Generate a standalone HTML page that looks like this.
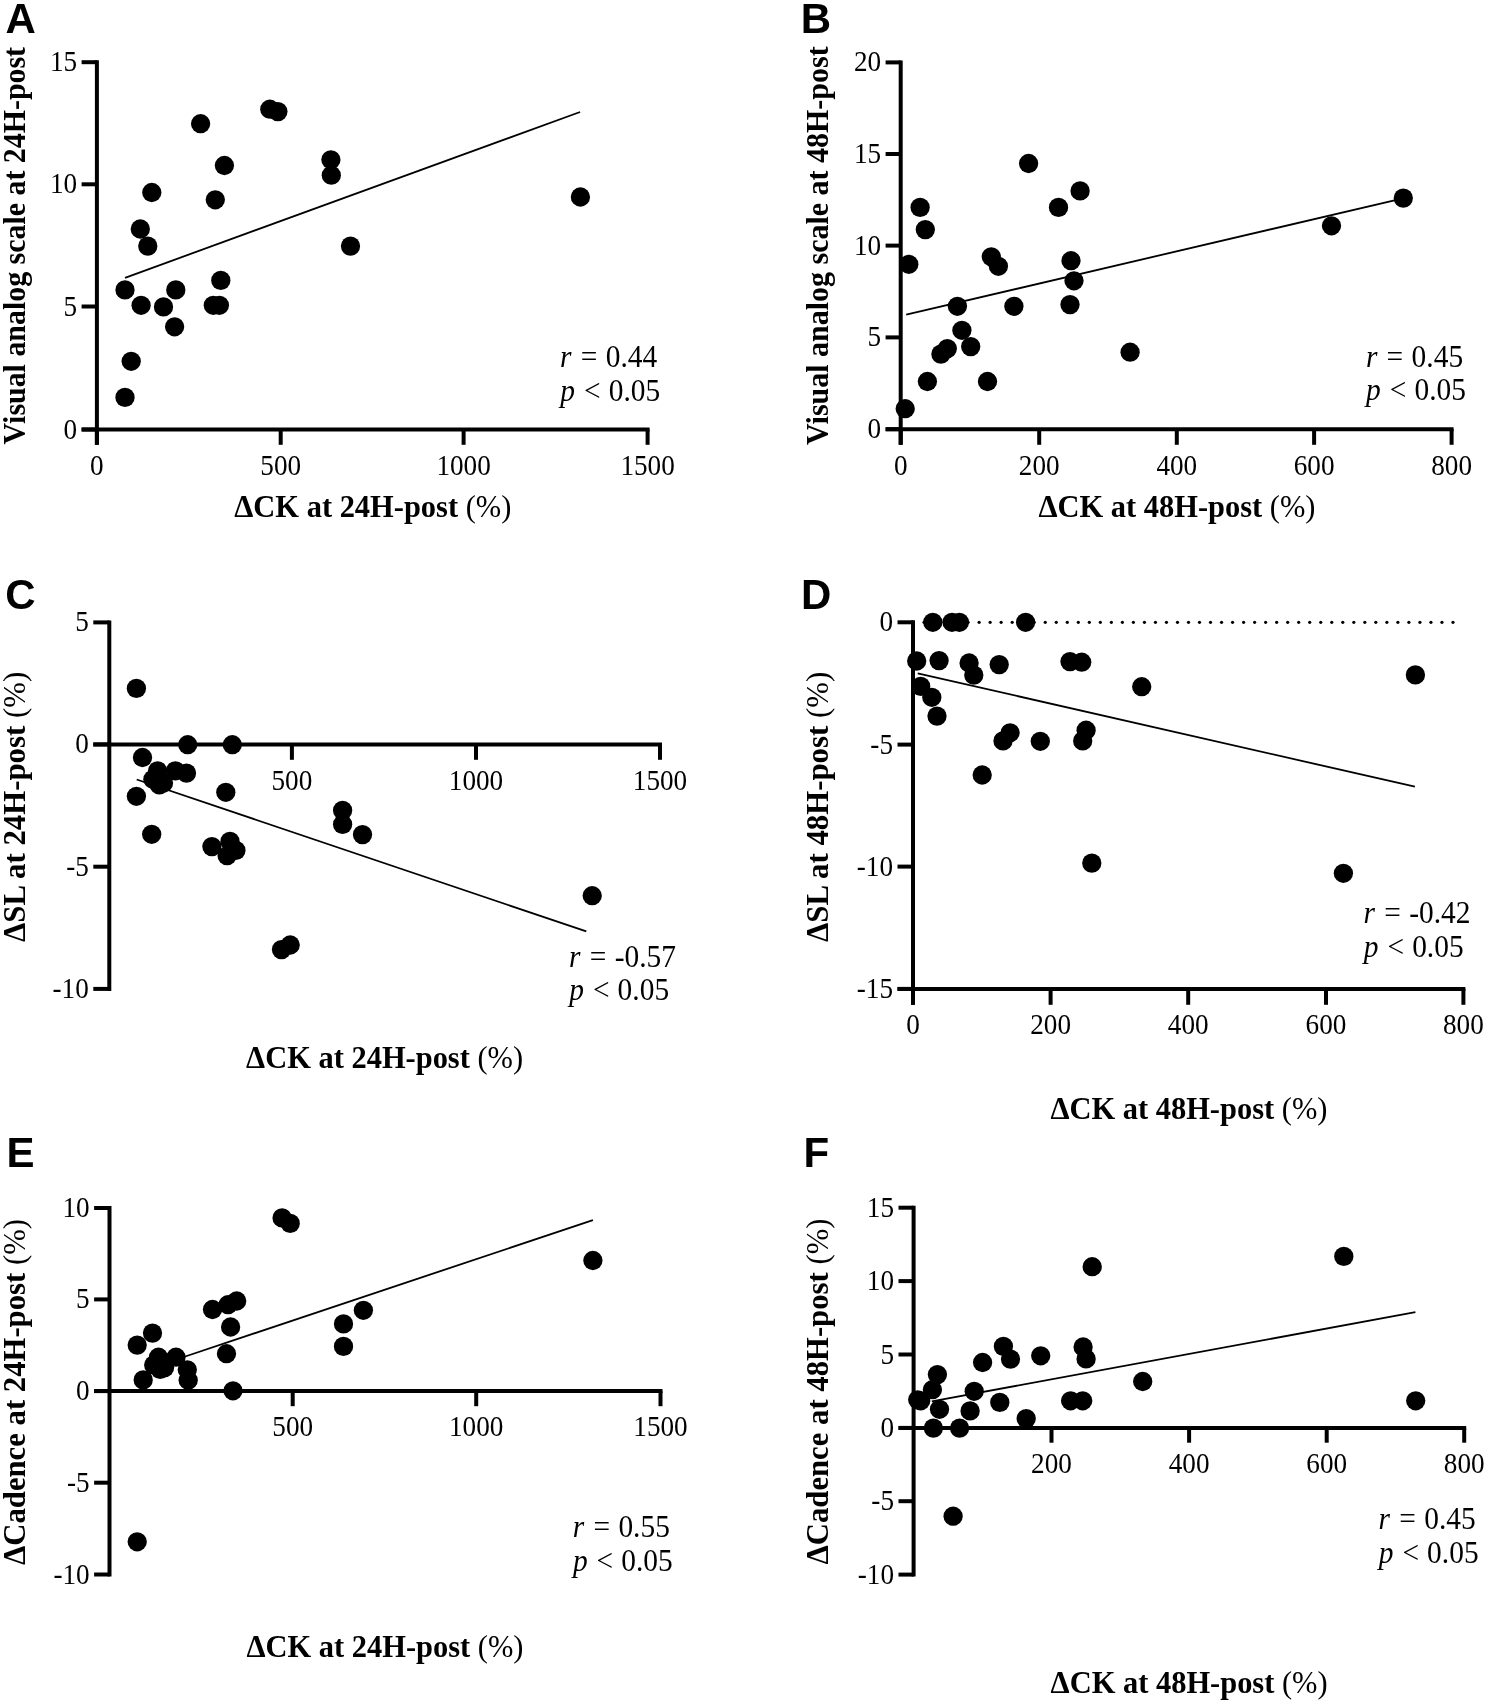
<!DOCTYPE html>
<html><head><meta charset="utf-8"><style>
html,body{margin:0;padding:0;background:#fff;}
svg{display:block;filter:grayscale(1);}
</style></head><body>
<svg width="1487" height="1703" viewBox="0 0 1487 1703">
<rect width="1487" height="1703" fill="#fff"/>
<line x1="96.90" y1="60.20" x2="96.90" y2="444.80" stroke="#000" stroke-width="4.0" stroke-linecap="butt"/>
<line x1="81.60" y1="62.20" x2="96.90" y2="62.20" stroke="#000" stroke-width="4.0" stroke-linecap="butt"/>
<text transform="translate(77.10,71.20) scale(0.897,1)" x="0" y="0" text-anchor="end" font-size="30.3" font-weight="normal" font-style="normal" font-family="Liberation Serif" >15</text>
<line x1="81.60" y1="184.30" x2="96.90" y2="184.30" stroke="#000" stroke-width="4.0" stroke-linecap="butt"/>
<text transform="translate(77.10,193.30) scale(0.897,1)" x="0" y="0" text-anchor="end" font-size="30.3" font-weight="normal" font-style="normal" font-family="Liberation Serif" >10</text>
<line x1="81.60" y1="306.50" x2="96.90" y2="306.50" stroke="#000" stroke-width="4.0" stroke-linecap="butt"/>
<text transform="translate(77.10,315.50) scale(0.897,1)" x="0" y="0" text-anchor="end" font-size="30.3" font-weight="normal" font-style="normal" font-family="Liberation Serif" >5</text>
<line x1="81.60" y1="429.50" x2="96.90" y2="429.50" stroke="#000" stroke-width="4.0" stroke-linecap="butt"/>
<text transform="translate(77.10,438.50) scale(0.897,1)" x="0" y="0" text-anchor="end" font-size="30.3" font-weight="normal" font-style="normal" font-family="Liberation Serif" >0</text>
<line x1="81.60" y1="429.50" x2="649.60" y2="429.50" stroke="#000" stroke-width="4.0" stroke-linecap="butt"/>
<line x1="96.90" y1="429.50" x2="96.90" y2="444.80" stroke="#000" stroke-width="4.0" stroke-linecap="butt"/>
<text transform="translate(96.90,474.50) scale(0.897,1)" x="0" y="0" text-anchor="middle" font-size="30.3" font-weight="normal" font-style="normal" font-family="Liberation Serif" >0</text>
<line x1="280.70" y1="429.50" x2="280.70" y2="444.80" stroke="#000" stroke-width="4.0" stroke-linecap="butt"/>
<text transform="translate(280.70,474.50) scale(0.897,1)" x="0" y="0" text-anchor="middle" font-size="30.3" font-weight="normal" font-style="normal" font-family="Liberation Serif" >500</text>
<line x1="463.60" y1="429.50" x2="463.60" y2="444.80" stroke="#000" stroke-width="4.0" stroke-linecap="butt"/>
<text transform="translate(463.60,474.50) scale(0.897,1)" x="0" y="0" text-anchor="middle" font-size="30.3" font-weight="normal" font-style="normal" font-family="Liberation Serif" >1000</text>
<line x1="647.60" y1="429.50" x2="647.60" y2="444.80" stroke="#000" stroke-width="4.0" stroke-linecap="butt"/>
<text transform="translate(647.60,474.50) scale(0.897,1)" x="0" y="0" text-anchor="middle" font-size="30.3" font-weight="normal" font-style="normal" font-family="Liberation Serif" >1500</text>
<line x1="125.00" y1="277.80" x2="580.10" y2="112.00" stroke="#000" stroke-width="1.8" stroke-linecap="butt"/>
<circle cx="200.6" cy="123.7" r="9.65"/>
<circle cx="269.8" cy="109.2" r="9.65"/>
<circle cx="277.9" cy="111.6" r="9.65"/>
<circle cx="224.4" cy="165.5" r="9.65"/>
<circle cx="330.9" cy="159.8" r="9.65"/>
<circle cx="331.3" cy="175.2" r="9.65"/>
<circle cx="151.8" cy="192.5" r="9.65"/>
<circle cx="215.3" cy="199.8" r="9.65"/>
<circle cx="140.3" cy="229.0" r="9.65"/>
<circle cx="147.8" cy="246.1" r="9.65"/>
<circle cx="350.5" cy="246.1" r="9.65"/>
<circle cx="125.0" cy="289.9" r="9.65"/>
<circle cx="141.1" cy="305.3" r="9.65"/>
<circle cx="163.5" cy="306.9" r="9.65"/>
<circle cx="175.8" cy="289.9" r="9.65"/>
<circle cx="174.6" cy="326.8" r="9.65"/>
<circle cx="220.8" cy="280.4" r="9.65"/>
<circle cx="213.3" cy="305.3" r="9.65"/>
<circle cx="219.4" cy="305.3" r="9.65"/>
<circle cx="131.2" cy="361.3" r="9.65"/>
<circle cx="125.0" cy="397.4" r="9.65"/>
<circle cx="580.4" cy="197.0" r="9.65"/>
<line x1="900.70" y1="60.40" x2="900.70" y2="444.80" stroke="#000" stroke-width="4.0" stroke-linecap="butt"/>
<line x1="885.60" y1="62.40" x2="900.70" y2="62.40" stroke="#000" stroke-width="4.0" stroke-linecap="butt"/>
<text transform="translate(881.10,71.40) scale(0.897,1)" x="0" y="0" text-anchor="end" font-size="30.3" font-weight="normal" font-style="normal" font-family="Liberation Serif" >20</text>
<line x1="885.60" y1="154.00" x2="900.70" y2="154.00" stroke="#000" stroke-width="4.0" stroke-linecap="butt"/>
<text transform="translate(881.10,163.00) scale(0.897,1)" x="0" y="0" text-anchor="end" font-size="30.3" font-weight="normal" font-style="normal" font-family="Liberation Serif" >15</text>
<line x1="885.60" y1="245.60" x2="900.70" y2="245.60" stroke="#000" stroke-width="4.0" stroke-linecap="butt"/>
<text transform="translate(881.10,254.60) scale(0.897,1)" x="0" y="0" text-anchor="end" font-size="30.3" font-weight="normal" font-style="normal" font-family="Liberation Serif" >10</text>
<line x1="885.60" y1="337.40" x2="900.70" y2="337.40" stroke="#000" stroke-width="4.0" stroke-linecap="butt"/>
<text transform="translate(881.10,346.40) scale(0.897,1)" x="0" y="0" text-anchor="end" font-size="30.3" font-weight="normal" font-style="normal" font-family="Liberation Serif" >5</text>
<line x1="885.60" y1="429.20" x2="900.70" y2="429.20" stroke="#000" stroke-width="4.0" stroke-linecap="butt"/>
<text transform="translate(881.10,438.20) scale(0.897,1)" x="0" y="0" text-anchor="end" font-size="30.3" font-weight="normal" font-style="normal" font-family="Liberation Serif" >0</text>
<line x1="885.60" y1="429.20" x2="1453.60" y2="429.20" stroke="#000" stroke-width="4.0" stroke-linecap="butt"/>
<line x1="900.70" y1="429.20" x2="900.70" y2="444.80" stroke="#000" stroke-width="4.0" stroke-linecap="butt"/>
<text transform="translate(900.70,474.50) scale(0.897,1)" x="0" y="0" text-anchor="middle" font-size="30.3" font-weight="normal" font-style="normal" font-family="Liberation Serif" >0</text>
<line x1="1039.20" y1="429.20" x2="1039.20" y2="444.80" stroke="#000" stroke-width="4.0" stroke-linecap="butt"/>
<text transform="translate(1039.20,474.50) scale(0.897,1)" x="0" y="0" text-anchor="middle" font-size="30.3" font-weight="normal" font-style="normal" font-family="Liberation Serif" >200</text>
<line x1="1176.80" y1="429.20" x2="1176.80" y2="444.80" stroke="#000" stroke-width="4.0" stroke-linecap="butt"/>
<text transform="translate(1176.80,474.50) scale(0.897,1)" x="0" y="0" text-anchor="middle" font-size="30.3" font-weight="normal" font-style="normal" font-family="Liberation Serif" >400</text>
<line x1="1314.10" y1="429.20" x2="1314.10" y2="444.80" stroke="#000" stroke-width="4.0" stroke-linecap="butt"/>
<text transform="translate(1314.10,474.50) scale(0.897,1)" x="0" y="0" text-anchor="middle" font-size="30.3" font-weight="normal" font-style="normal" font-family="Liberation Serif" >600</text>
<line x1="1451.60" y1="429.20" x2="1451.60" y2="444.80" stroke="#000" stroke-width="4.0" stroke-linecap="butt"/>
<text transform="translate(1451.60,474.50) scale(0.897,1)" x="0" y="0" text-anchor="middle" font-size="30.3" font-weight="normal" font-style="normal" font-family="Liberation Serif" >800</text>
<line x1="906.20" y1="314.70" x2="1403.00" y2="198.30" stroke="#000" stroke-width="1.8" stroke-linecap="butt"/>
<circle cx="1028.6" cy="163.5" r="9.65"/>
<circle cx="1080.1" cy="190.9" r="9.65"/>
<circle cx="1058.5" cy="207.4" r="9.65"/>
<circle cx="920.1" cy="207.4" r="9.65"/>
<circle cx="925.3" cy="229.6" r="9.65"/>
<circle cx="908.8" cy="264.3" r="9.65"/>
<circle cx="991.3" cy="256.8" r="9.65"/>
<circle cx="998.4" cy="266.3" r="9.65"/>
<circle cx="1071.0" cy="260.7" r="9.65"/>
<circle cx="1074.0" cy="280.8" r="9.65"/>
<circle cx="1070.0" cy="304.6" r="9.65"/>
<circle cx="957.4" cy="306.3" r="9.65"/>
<circle cx="1013.9" cy="306.3" r="9.65"/>
<circle cx="961.9" cy="330.3" r="9.65"/>
<circle cx="947.3" cy="348.6" r="9.65"/>
<circle cx="940.9" cy="354.1" r="9.65"/>
<circle cx="970.7" cy="346.6" r="9.65"/>
<circle cx="927.4" cy="381.5" r="9.65"/>
<circle cx="987.5" cy="381.5" r="9.65"/>
<circle cx="905.2" cy="408.7" r="9.65"/>
<circle cx="1130.1" cy="352.2" r="9.65"/>
<circle cx="1403.3" cy="198.1" r="9.65"/>
<circle cx="1331.5" cy="225.8" r="9.65"/>
<line x1="109.30" y1="620.40" x2="109.30" y2="990.90" stroke="#000" stroke-width="4.0" stroke-linecap="butt"/>
<line x1="93.30" y1="622.40" x2="109.30" y2="622.40" stroke="#000" stroke-width="4.0" stroke-linecap="butt"/>
<text transform="translate(88.80,631.40) scale(0.897,1)" x="0" y="0" text-anchor="end" font-size="30.3" font-weight="normal" font-style="normal" font-family="Liberation Serif" >5</text>
<line x1="93.30" y1="744.40" x2="109.30" y2="744.40" stroke="#000" stroke-width="4.0" stroke-linecap="butt"/>
<text transform="translate(88.80,753.40) scale(0.897,1)" x="0" y="0" text-anchor="end" font-size="30.3" font-weight="normal" font-style="normal" font-family="Liberation Serif" >0</text>
<line x1="93.30" y1="866.70" x2="109.30" y2="866.70" stroke="#000" stroke-width="4.0" stroke-linecap="butt"/>
<text transform="translate(88.80,875.70) scale(0.897,1)" x="0" y="0" text-anchor="end" font-size="30.3" font-weight="normal" font-style="normal" font-family="Liberation Serif" >-5</text>
<line x1="93.30" y1="988.90" x2="109.30" y2="988.90" stroke="#000" stroke-width="4.0" stroke-linecap="butt"/>
<text transform="translate(88.80,997.90) scale(0.897,1)" x="0" y="0" text-anchor="end" font-size="30.3" font-weight="normal" font-style="normal" font-family="Liberation Serif" >-10</text>
<line x1="93.30" y1="744.40" x2="662.00" y2="744.40" stroke="#000" stroke-width="4.0" stroke-linecap="butt"/>
<line x1="291.90" y1="744.40" x2="291.90" y2="759.80" stroke="#000" stroke-width="4.0" stroke-linecap="butt"/>
<text transform="translate(291.90,789.50) scale(0.897,1)" x="0" y="0" text-anchor="middle" font-size="30.3" font-weight="normal" font-style="normal" font-family="Liberation Serif" >500</text>
<line x1="476.00" y1="744.40" x2="476.00" y2="759.80" stroke="#000" stroke-width="4.0" stroke-linecap="butt"/>
<text transform="translate(476.00,789.50) scale(0.897,1)" x="0" y="0" text-anchor="middle" font-size="30.3" font-weight="normal" font-style="normal" font-family="Liberation Serif" >1000</text>
<line x1="660.00" y1="744.40" x2="660.00" y2="759.80" stroke="#000" stroke-width="4.0" stroke-linecap="butt"/>
<text transform="translate(660.00,789.50) scale(0.897,1)" x="0" y="0" text-anchor="middle" font-size="30.3" font-weight="normal" font-style="normal" font-family="Liberation Serif" >1500</text>
<line x1="136.70" y1="779.50" x2="586.30" y2="931.40" stroke="#000" stroke-width="1.8" stroke-linecap="butt"/>
<circle cx="136.4" cy="688.4" r="9.65"/>
<circle cx="187.7" cy="744.7" r="9.65"/>
<circle cx="232.3" cy="744.7" r="9.65"/>
<circle cx="142.5" cy="757.5" r="9.65"/>
<circle cx="157.6" cy="770.8" r="9.65"/>
<circle cx="152.9" cy="779.3" r="9.65"/>
<circle cx="159.4" cy="784.9" r="9.65"/>
<circle cx="175.4" cy="770.8" r="9.65"/>
<circle cx="186.5" cy="773.1" r="9.65"/>
<circle cx="136.4" cy="796.3" r="9.65"/>
<circle cx="225.8" cy="792.3" r="9.65"/>
<circle cx="151.7" cy="834.3" r="9.65"/>
<circle cx="211.9" cy="846.6" r="9.65"/>
<circle cx="230.0" cy="841.4" r="9.65"/>
<circle cx="235.9" cy="850.4" r="9.65"/>
<circle cx="227.1" cy="855.7" r="9.65"/>
<circle cx="342.6" cy="810.4" r="9.65"/>
<circle cx="342.6" cy="824.4" r="9.65"/>
<circle cx="362.5" cy="834.6" r="9.65"/>
<circle cx="592.2" cy="895.7" r="9.65"/>
<circle cx="281.5" cy="949.6" r="9.65"/>
<circle cx="290.2" cy="945.0" r="9.65"/>
<circle cx="163.5" cy="783.0" r="9.65"/>
<line x1="913.00" y1="620.30" x2="913.00" y2="1004.80" stroke="#000" stroke-width="4.0" stroke-linecap="butt"/>
<line x1="897.50" y1="622.30" x2="913.00" y2="622.30" stroke="#000" stroke-width="4.0" stroke-linecap="butt"/>
<text transform="translate(893.00,631.30) scale(0.897,1)" x="0" y="0" text-anchor="end" font-size="30.3" font-weight="normal" font-style="normal" font-family="Liberation Serif" >0</text>
<line x1="897.50" y1="744.60" x2="913.00" y2="744.60" stroke="#000" stroke-width="4.0" stroke-linecap="butt"/>
<text transform="translate(893.00,753.60) scale(0.897,1)" x="0" y="0" text-anchor="end" font-size="30.3" font-weight="normal" font-style="normal" font-family="Liberation Serif" >-5</text>
<line x1="897.50" y1="866.60" x2="913.00" y2="866.60" stroke="#000" stroke-width="4.0" stroke-linecap="butt"/>
<text transform="translate(893.00,875.60) scale(0.897,1)" x="0" y="0" text-anchor="end" font-size="30.3" font-weight="normal" font-style="normal" font-family="Liberation Serif" >-10</text>
<line x1="897.50" y1="988.90" x2="913.00" y2="988.90" stroke="#000" stroke-width="4.0" stroke-linecap="butt"/>
<text transform="translate(893.00,997.90) scale(0.897,1)" x="0" y="0" text-anchor="end" font-size="30.3" font-weight="normal" font-style="normal" font-family="Liberation Serif" >-15</text>
<line x1="897.50" y1="988.90" x2="1465.40" y2="988.90" stroke="#000" stroke-width="4.0" stroke-linecap="butt"/>
<line x1="913.00" y1="988.90" x2="913.00" y2="1004.80" stroke="#000" stroke-width="4.0" stroke-linecap="butt"/>
<text transform="translate(913.00,1034.30) scale(0.897,1)" x="0" y="0" text-anchor="middle" font-size="30.3" font-weight="normal" font-style="normal" font-family="Liberation Serif" >0</text>
<line x1="1050.60" y1="988.90" x2="1050.60" y2="1004.80" stroke="#000" stroke-width="4.0" stroke-linecap="butt"/>
<text transform="translate(1050.60,1034.30) scale(0.897,1)" x="0" y="0" text-anchor="middle" font-size="30.3" font-weight="normal" font-style="normal" font-family="Liberation Serif" >200</text>
<line x1="1188.20" y1="988.90" x2="1188.20" y2="1004.80" stroke="#000" stroke-width="4.0" stroke-linecap="butt"/>
<text transform="translate(1188.20,1034.30) scale(0.897,1)" x="0" y="0" text-anchor="middle" font-size="30.3" font-weight="normal" font-style="normal" font-family="Liberation Serif" >400</text>
<line x1="1326.00" y1="988.90" x2="1326.00" y2="1004.80" stroke="#000" stroke-width="4.0" stroke-linecap="butt"/>
<text transform="translate(1326.00,1034.30) scale(0.897,1)" x="0" y="0" text-anchor="middle" font-size="30.3" font-weight="normal" font-style="normal" font-family="Liberation Serif" >600</text>
<line x1="1463.40" y1="988.90" x2="1463.40" y2="1004.80" stroke="#000" stroke-width="4.0" stroke-linecap="butt"/>
<text transform="translate(1463.40,1034.30) scale(0.897,1)" x="0" y="0" text-anchor="middle" font-size="30.3" font-weight="normal" font-style="normal" font-family="Liberation Serif" >800</text>
<line x1="917.70" y1="673.30" x2="1414.90" y2="786.70" stroke="#000" stroke-width="1.8" stroke-linecap="butt"/>
<circle cx="932.8" cy="622.3" r="9.65"/>
<circle cx="952.0" cy="622.3" r="9.65"/>
<circle cx="959.4" cy="622.3" r="9.65"/>
<circle cx="1025.6" cy="622.3" r="9.65"/>
<circle cx="916.7" cy="661.0" r="9.65"/>
<circle cx="939.1" cy="660.6" r="9.65"/>
<circle cx="969.1" cy="663.0" r="9.65"/>
<circle cx="973.8" cy="675.1" r="9.65"/>
<circle cx="999.2" cy="664.6" r="9.65"/>
<circle cx="1070.0" cy="661.6" r="9.65"/>
<circle cx="1081.7" cy="662.2" r="9.65"/>
<circle cx="920.7" cy="686.4" r="9.65"/>
<circle cx="931.8" cy="697.3" r="9.65"/>
<circle cx="937.0" cy="716.1" r="9.65"/>
<circle cx="1010.1" cy="732.8" r="9.65"/>
<circle cx="1003.0" cy="740.9" r="9.65"/>
<circle cx="1040.3" cy="741.3" r="9.65"/>
<circle cx="1086.1" cy="730.2" r="9.65"/>
<circle cx="1082.7" cy="740.9" r="9.65"/>
<circle cx="982.2" cy="775.0" r="9.65"/>
<circle cx="1141.7" cy="686.7" r="9.65"/>
<circle cx="1415.4" cy="674.9" r="9.65"/>
<circle cx="1091.8" cy="863.1" r="9.65"/>
<circle cx="1343.4" cy="873.3" r="9.65"/>
<line x1="109.50" y1="1206.00" x2="109.50" y2="1576.50" stroke="#000" stroke-width="4.0" stroke-linecap="butt"/>
<line x1="94.10" y1="1208.00" x2="109.50" y2="1208.00" stroke="#000" stroke-width="4.0" stroke-linecap="butt"/>
<text transform="translate(89.60,1217.00) scale(0.897,1)" x="0" y="0" text-anchor="end" font-size="30.3" font-weight="normal" font-style="normal" font-family="Liberation Serif" >10</text>
<line x1="94.10" y1="1299.40" x2="109.50" y2="1299.40" stroke="#000" stroke-width="4.0" stroke-linecap="butt"/>
<text transform="translate(89.60,1308.40) scale(0.897,1)" x="0" y="0" text-anchor="end" font-size="30.3" font-weight="normal" font-style="normal" font-family="Liberation Serif" >5</text>
<line x1="94.10" y1="1391.10" x2="109.50" y2="1391.10" stroke="#000" stroke-width="4.0" stroke-linecap="butt"/>
<text transform="translate(89.60,1400.10) scale(0.897,1)" x="0" y="0" text-anchor="end" font-size="30.3" font-weight="normal" font-style="normal" font-family="Liberation Serif" >0</text>
<line x1="94.10" y1="1482.70" x2="109.50" y2="1482.70" stroke="#000" stroke-width="4.0" stroke-linecap="butt"/>
<text transform="translate(89.60,1491.70) scale(0.897,1)" x="0" y="0" text-anchor="end" font-size="30.3" font-weight="normal" font-style="normal" font-family="Liberation Serif" >-5</text>
<line x1="94.10" y1="1574.50" x2="109.50" y2="1574.50" stroke="#000" stroke-width="4.0" stroke-linecap="butt"/>
<text transform="translate(89.60,1583.50) scale(0.897,1)" x="0" y="0" text-anchor="end" font-size="30.3" font-weight="normal" font-style="normal" font-family="Liberation Serif" >-10</text>
<line x1="94.10" y1="1391.10" x2="662.50" y2="1391.10" stroke="#000" stroke-width="4.0" stroke-linecap="butt"/>
<line x1="292.70" y1="1391.10" x2="292.70" y2="1406.20" stroke="#000" stroke-width="4.0" stroke-linecap="butt"/>
<text transform="translate(292.70,1436.20) scale(0.897,1)" x="0" y="0" text-anchor="middle" font-size="30.3" font-weight="normal" font-style="normal" font-family="Liberation Serif" >500</text>
<line x1="476.20" y1="1391.10" x2="476.20" y2="1406.20" stroke="#000" stroke-width="4.0" stroke-linecap="butt"/>
<text transform="translate(476.20,1436.20) scale(0.897,1)" x="0" y="0" text-anchor="middle" font-size="30.3" font-weight="normal" font-style="normal" font-family="Liberation Serif" >1000</text>
<line x1="660.50" y1="1391.10" x2="660.50" y2="1406.20" stroke="#000" stroke-width="4.0" stroke-linecap="butt"/>
<text transform="translate(660.50,1436.20) scale(0.897,1)" x="0" y="0" text-anchor="middle" font-size="30.3" font-weight="normal" font-style="normal" font-family="Liberation Serif" >1500</text>
<line x1="185.20" y1="1356.50" x2="592.90" y2="1220.10" stroke="#000" stroke-width="1.8" stroke-linecap="butt"/>
<circle cx="282.1" cy="1217.9" r="9.65"/>
<circle cx="290.2" cy="1223.4" r="9.65"/>
<circle cx="236.7" cy="1301.0" r="9.65"/>
<circle cx="228.0" cy="1304.7" r="9.65"/>
<circle cx="212.5" cy="1309.5" r="9.65"/>
<circle cx="230.6" cy="1327.0" r="9.65"/>
<circle cx="152.5" cy="1333.1" r="9.65"/>
<circle cx="137.2" cy="1345.1" r="9.65"/>
<circle cx="226.5" cy="1353.7" r="9.65"/>
<circle cx="176.0" cy="1357.2" r="9.65"/>
<circle cx="158.5" cy="1357.2" r="9.65"/>
<circle cx="153.7" cy="1365.0" r="9.65"/>
<circle cx="160.2" cy="1369.4" r="9.65"/>
<circle cx="164.6" cy="1367.6" r="9.65"/>
<circle cx="187.3" cy="1369.8" r="9.65"/>
<circle cx="143.2" cy="1379.9" r="9.65"/>
<circle cx="188.2" cy="1380.3" r="9.65"/>
<circle cx="233.0" cy="1390.8" r="9.65"/>
<circle cx="343.5" cy="1323.9" r="9.65"/>
<circle cx="343.5" cy="1346.4" r="9.65"/>
<circle cx="363.4" cy="1310.3" r="9.65"/>
<circle cx="592.9" cy="1260.5" r="9.65"/>
<circle cx="137.2" cy="1541.8" r="9.65"/>
<line x1="913.60" y1="1205.70" x2="913.60" y2="1576.60" stroke="#000" stroke-width="4.0" stroke-linecap="butt"/>
<line x1="898.50" y1="1207.70" x2="913.60" y2="1207.70" stroke="#000" stroke-width="4.0" stroke-linecap="butt"/>
<text transform="translate(894.00,1216.70) scale(0.897,1)" x="0" y="0" text-anchor="end" font-size="30.3" font-weight="normal" font-style="normal" font-family="Liberation Serif" >15</text>
<line x1="898.50" y1="1281.10" x2="913.60" y2="1281.10" stroke="#000" stroke-width="4.0" stroke-linecap="butt"/>
<text transform="translate(894.00,1290.10) scale(0.897,1)" x="0" y="0" text-anchor="end" font-size="30.3" font-weight="normal" font-style="normal" font-family="Liberation Serif" >10</text>
<line x1="898.50" y1="1354.50" x2="913.60" y2="1354.50" stroke="#000" stroke-width="4.0" stroke-linecap="butt"/>
<text transform="translate(894.00,1363.50) scale(0.897,1)" x="0" y="0" text-anchor="end" font-size="30.3" font-weight="normal" font-style="normal" font-family="Liberation Serif" >5</text>
<line x1="898.50" y1="1427.90" x2="913.60" y2="1427.90" stroke="#000" stroke-width="4.0" stroke-linecap="butt"/>
<text transform="translate(894.00,1436.90) scale(0.897,1)" x="0" y="0" text-anchor="end" font-size="30.3" font-weight="normal" font-style="normal" font-family="Liberation Serif" >0</text>
<line x1="898.50" y1="1501.20" x2="913.60" y2="1501.20" stroke="#000" stroke-width="4.0" stroke-linecap="butt"/>
<text transform="translate(894.00,1510.20) scale(0.897,1)" x="0" y="0" text-anchor="end" font-size="30.3" font-weight="normal" font-style="normal" font-family="Liberation Serif" >-5</text>
<line x1="898.50" y1="1574.60" x2="913.60" y2="1574.60" stroke="#000" stroke-width="4.0" stroke-linecap="butt"/>
<text transform="translate(894.00,1583.60) scale(0.897,1)" x="0" y="0" text-anchor="end" font-size="30.3" font-weight="normal" font-style="normal" font-family="Liberation Serif" >-10</text>
<line x1="898.50" y1="1427.90" x2="1466.20" y2="1427.90" stroke="#000" stroke-width="4.0" stroke-linecap="butt"/>
<line x1="1051.50" y1="1427.90" x2="1051.50" y2="1442.70" stroke="#000" stroke-width="4.0" stroke-linecap="butt"/>
<text transform="translate(1051.50,1472.70) scale(0.897,1)" x="0" y="0" text-anchor="middle" font-size="30.3" font-weight="normal" font-style="normal" font-family="Liberation Serif" >200</text>
<line x1="1189.10" y1="1427.90" x2="1189.10" y2="1442.70" stroke="#000" stroke-width="4.0" stroke-linecap="butt"/>
<text transform="translate(1189.10,1472.70) scale(0.897,1)" x="0" y="0" text-anchor="middle" font-size="30.3" font-weight="normal" font-style="normal" font-family="Liberation Serif" >400</text>
<line x1="1326.70" y1="1427.90" x2="1326.70" y2="1442.70" stroke="#000" stroke-width="4.0" stroke-linecap="butt"/>
<text transform="translate(1326.70,1472.70) scale(0.897,1)" x="0" y="0" text-anchor="middle" font-size="30.3" font-weight="normal" font-style="normal" font-family="Liberation Serif" >600</text>
<line x1="1464.20" y1="1427.90" x2="1464.20" y2="1442.70" stroke="#000" stroke-width="4.0" stroke-linecap="butt"/>
<text transform="translate(1464.20,1472.70) scale(0.897,1)" x="0" y="0" text-anchor="middle" font-size="30.3" font-weight="normal" font-style="normal" font-family="Liberation Serif" >800</text>
<line x1="931.80" y1="1401.40" x2="1415.40" y2="1312.20" stroke="#000" stroke-width="1.8" stroke-linecap="butt"/>
<circle cx="1092.2" cy="1266.7" r="9.65"/>
<circle cx="1003.4" cy="1346.4" r="9.65"/>
<circle cx="1010.5" cy="1359.1" r="9.65"/>
<circle cx="982.6" cy="1362.5" r="9.65"/>
<circle cx="1040.7" cy="1355.8" r="9.65"/>
<circle cx="1083.1" cy="1347.0" r="9.65"/>
<circle cx="1086.1" cy="1358.9" r="9.65"/>
<circle cx="937.4" cy="1374.6" r="9.65"/>
<circle cx="932.4" cy="1389.7" r="9.65"/>
<circle cx="917.7" cy="1399.8" r="9.65"/>
<circle cx="920.7" cy="1400.8" r="9.65"/>
<circle cx="939.5" cy="1409.3" r="9.65"/>
<circle cx="974.2" cy="1391.3" r="9.65"/>
<circle cx="970.1" cy="1410.9" r="9.65"/>
<circle cx="999.8" cy="1402.4" r="9.65"/>
<circle cx="1026.2" cy="1418.6" r="9.65"/>
<circle cx="1070.6" cy="1400.8" r="9.65"/>
<circle cx="1082.7" cy="1400.8" r="9.65"/>
<circle cx="933.4" cy="1428.1" r="9.65"/>
<circle cx="959.6" cy="1428.1" r="9.65"/>
<circle cx="1142.7" cy="1381.5" r="9.65"/>
<circle cx="1343.8" cy="1256.4" r="9.65"/>
<circle cx="1415.7" cy="1400.8" r="9.65"/>
<circle cx="953.1" cy="1516.2" r="9.65"/>
<circle cx="924.02" cy="622.3" r="1.6"/>
<circle cx="935.04" cy="622.3" r="1.6"/>
<circle cx="946.06" cy="622.3" r="1.6"/>
<circle cx="957.08" cy="622.3" r="1.6"/>
<circle cx="968.10" cy="622.3" r="1.6"/>
<circle cx="979.12" cy="622.3" r="1.6"/>
<circle cx="990.14" cy="622.3" r="1.6"/>
<circle cx="1001.16" cy="622.3" r="1.6"/>
<circle cx="1012.18" cy="622.3" r="1.6"/>
<circle cx="1023.20" cy="622.3" r="1.6"/>
<circle cx="1034.22" cy="622.3" r="1.6"/>
<circle cx="1045.24" cy="622.3" r="1.6"/>
<circle cx="1056.26" cy="622.3" r="1.6"/>
<circle cx="1067.28" cy="622.3" r="1.6"/>
<circle cx="1078.30" cy="622.3" r="1.6"/>
<circle cx="1089.32" cy="622.3" r="1.6"/>
<circle cx="1100.34" cy="622.3" r="1.6"/>
<circle cx="1111.36" cy="622.3" r="1.6"/>
<circle cx="1122.38" cy="622.3" r="1.6"/>
<circle cx="1133.40" cy="622.3" r="1.6"/>
<circle cx="1144.42" cy="622.3" r="1.6"/>
<circle cx="1155.44" cy="622.3" r="1.6"/>
<circle cx="1166.46" cy="622.3" r="1.6"/>
<circle cx="1177.48" cy="622.3" r="1.6"/>
<circle cx="1188.50" cy="622.3" r="1.6"/>
<circle cx="1199.52" cy="622.3" r="1.6"/>
<circle cx="1210.54" cy="622.3" r="1.6"/>
<circle cx="1221.56" cy="622.3" r="1.6"/>
<circle cx="1232.58" cy="622.3" r="1.6"/>
<circle cx="1243.60" cy="622.3" r="1.6"/>
<circle cx="1254.62" cy="622.3" r="1.6"/>
<circle cx="1265.64" cy="622.3" r="1.6"/>
<circle cx="1276.66" cy="622.3" r="1.6"/>
<circle cx="1287.68" cy="622.3" r="1.6"/>
<circle cx="1298.70" cy="622.3" r="1.6"/>
<circle cx="1309.72" cy="622.3" r="1.6"/>
<circle cx="1320.74" cy="622.3" r="1.6"/>
<circle cx="1331.76" cy="622.3" r="1.6"/>
<circle cx="1342.78" cy="622.3" r="1.6"/>
<circle cx="1353.80" cy="622.3" r="1.6"/>
<circle cx="1364.82" cy="622.3" r="1.6"/>
<circle cx="1375.84" cy="622.3" r="1.6"/>
<circle cx="1386.86" cy="622.3" r="1.6"/>
<circle cx="1397.88" cy="622.3" r="1.6"/>
<circle cx="1408.90" cy="622.3" r="1.6"/>
<circle cx="1419.92" cy="622.3" r="1.6"/>
<circle cx="1430.94" cy="622.3" r="1.6"/>
<circle cx="1441.96" cy="622.3" r="1.6"/>
<circle cx="1452.98" cy="622.3" r="1.6"/>
<text x="5.40" y="32.50" text-anchor="start" font-size="42" font-weight="bold" font-style="normal" font-family="Liberation Sans" >A</text>
<text x="800.70" y="32.50" text-anchor="start" font-size="42" font-weight="bold" font-style="normal" font-family="Liberation Sans" >B</text>
<text x="5.20" y="609.20" text-anchor="start" font-size="42" font-weight="bold" font-style="normal" font-family="Liberation Sans" >C</text>
<text x="800.90" y="609.40" text-anchor="start" font-size="42" font-weight="bold" font-style="normal" font-family="Liberation Sans" >D</text>
<text x="6.40" y="1167.00" text-anchor="start" font-size="42" font-weight="bold" font-style="normal" font-family="Liberation Sans" >E</text>
<text x="803.40" y="1167.00" text-anchor="start" font-size="42" font-weight="bold" font-style="normal" font-family="Liberation Sans" >F</text>
<text transform="translate(372.80,517.20) scale(0.958,1)" x="0" y="0" text-anchor="middle" font-size="31.8" font-family="Liberation Serif"><tspan font-weight="bold">ΔCK at 24H-post</tspan> (%)</text>
<text transform="translate(1177.00,517.20) scale(0.958,1)" x="0" y="0" text-anchor="middle" font-size="31.8" font-family="Liberation Serif"><tspan font-weight="bold">ΔCK at 48H-post</tspan> (%)</text>
<text transform="translate(384.60,1068.00) scale(0.958,1)" x="0" y="0" text-anchor="middle" font-size="31.8" font-family="Liberation Serif"><tspan font-weight="bold">ΔCK at 24H-post</tspan> (%)</text>
<text transform="translate(1188.90,1118.60) scale(0.958,1)" x="0" y="0" text-anchor="middle" font-size="31.8" font-family="Liberation Serif"><tspan font-weight="bold">ΔCK at 48H-post</tspan> (%)</text>
<text transform="translate(385.00,1656.80) scale(0.958,1)" x="0" y="0" text-anchor="middle" font-size="31.8" font-family="Liberation Serif"><tspan font-weight="bold">ΔCK at 24H-post</tspan> (%)</text>
<text transform="translate(1189.10,1693.20) scale(0.958,1)" x="0" y="0" text-anchor="middle" font-size="31.8" font-family="Liberation Serif"><tspan font-weight="bold">ΔCK at 48H-post</tspan> (%)</text>
<text transform="translate(24.90,245.65) rotate(-90) scale(0.94,1)" x="0" y="0" text-anchor="middle" font-size="31.8" font-family="Liberation Serif" font-weight="bold">Visual analog scale at 24H-post</text>
<text transform="translate(827.60,245.65) rotate(-90) scale(0.943,1)" x="0" y="0" text-anchor="middle" font-size="31.8" font-family="Liberation Serif" font-weight="bold">Visual analog scale at 48H-post</text>
<text transform="translate(24.90,806.90) rotate(-90) scale(0.97,1)" x="0" y="0" text-anchor="middle" font-size="31.8" font-family="Liberation Serif" font-weight="bold">ΔSL at 24H-post <tspan font-weight="normal">(%)</tspan></text>
<text transform="translate(827.80,806.90) rotate(-90) scale(0.97,1)" x="0" y="0" text-anchor="middle" font-size="31.8" font-family="Liberation Serif" font-weight="bold">ΔSL at 48H-post <tspan font-weight="normal">(%)</tspan></text>
<text transform="translate(24.90,1392.00) rotate(-90) scale(0.966,1)" x="0" y="0" text-anchor="middle" font-size="31.8" font-family="Liberation Serif" font-weight="bold">ΔCadence at 24H-post <tspan font-weight="normal">(%)</tspan></text>
<text transform="translate(827.80,1391.50) rotate(-90) scale(0.966,1)" x="0" y="0" text-anchor="middle" font-size="31.8" font-family="Liberation Serif" font-weight="bold">ΔCadence at 48H-post <tspan font-weight="normal">(%)</tspan></text>
<text transform="translate(560.10,366.80) scale(0.92,1)" x="0" y="0" font-size="32.0" font-family="Liberation Serif" font-style="italic">r</text>
<text transform="translate(580.80,366.80) scale(0.92,1)" x="0" y="0" font-size="32.0" font-family="Liberation Serif">=</text>
<text transform="translate(605.80,366.80) scale(0.92,1)" x="0" y="0" font-size="32.0" font-family="Liberation Serif">0.44</text>
<text transform="translate(560.30,400.50) scale(0.92,1)" x="0" y="0" font-size="32.0" font-family="Liberation Serif" font-style="italic">p</text>
<text transform="translate(584.00,400.50) scale(0.92,1)" x="0" y="0" font-size="32.0" font-family="Liberation Serif">&lt;</text>
<text transform="translate(608.70,400.50) scale(0.92,1)" x="0" y="0" font-size="32.0" font-family="Liberation Serif">0.05</text>
<text transform="translate(1365.90,366.80) scale(0.92,1)" x="0" y="0" font-size="32.0" font-family="Liberation Serif" font-style="italic">r</text>
<text transform="translate(1386.60,366.80) scale(0.92,1)" x="0" y="0" font-size="32.0" font-family="Liberation Serif">=</text>
<text transform="translate(1411.60,366.80) scale(0.92,1)" x="0" y="0" font-size="32.0" font-family="Liberation Serif">0.45</text>
<text transform="translate(1366.10,400.40) scale(0.92,1)" x="0" y="0" font-size="32.0" font-family="Liberation Serif" font-style="italic">p</text>
<text transform="translate(1389.80,400.40) scale(0.92,1)" x="0" y="0" font-size="32.0" font-family="Liberation Serif">&lt;</text>
<text transform="translate(1414.50,400.40) scale(0.92,1)" x="0" y="0" font-size="32.0" font-family="Liberation Serif">0.05</text>
<text transform="translate(569.00,966.80) scale(0.92,1)" x="0" y="0" font-size="32.0" font-family="Liberation Serif" font-style="italic">r</text>
<text transform="translate(589.70,966.80) scale(0.92,1)" x="0" y="0" font-size="32.0" font-family="Liberation Serif">=</text>
<text transform="translate(614.70,966.80) scale(0.92,1)" x="0" y="0" font-size="32.0" font-family="Liberation Serif">-0.57</text>
<text transform="translate(569.20,1000.40) scale(0.92,1)" x="0" y="0" font-size="32.0" font-family="Liberation Serif" font-style="italic">p</text>
<text transform="translate(592.90,1000.40) scale(0.92,1)" x="0" y="0" font-size="32.0" font-family="Liberation Serif">&lt;</text>
<text transform="translate(617.60,1000.40) scale(0.92,1)" x="0" y="0" font-size="32.0" font-family="Liberation Serif">0.05</text>
<text transform="translate(1363.55,923.40) scale(0.92,1)" x="0" y="0" font-size="32.0" font-family="Liberation Serif" font-style="italic">r</text>
<text transform="translate(1384.25,923.40) scale(0.92,1)" x="0" y="0" font-size="32.0" font-family="Liberation Serif">=</text>
<text transform="translate(1409.25,923.40) scale(0.92,1)" x="0" y="0" font-size="32.0" font-family="Liberation Serif">-0.42</text>
<text transform="translate(1363.75,957.00) scale(0.92,1)" x="0" y="0" font-size="32.0" font-family="Liberation Serif" font-style="italic">p</text>
<text transform="translate(1387.45,957.00) scale(0.92,1)" x="0" y="0" font-size="32.0" font-family="Liberation Serif">&lt;</text>
<text transform="translate(1412.15,957.00) scale(0.92,1)" x="0" y="0" font-size="32.0" font-family="Liberation Serif">0.05</text>
<text transform="translate(572.70,1537.10) scale(0.92,1)" x="0" y="0" font-size="32.0" font-family="Liberation Serif" font-style="italic">r</text>
<text transform="translate(593.40,1537.10) scale(0.92,1)" x="0" y="0" font-size="32.0" font-family="Liberation Serif">=</text>
<text transform="translate(618.40,1537.10) scale(0.92,1)" x="0" y="0" font-size="32.0" font-family="Liberation Serif">0.55</text>
<text transform="translate(572.90,1570.60) scale(0.92,1)" x="0" y="0" font-size="32.0" font-family="Liberation Serif" font-style="italic">p</text>
<text transform="translate(596.60,1570.60) scale(0.92,1)" x="0" y="0" font-size="32.0" font-family="Liberation Serif">&lt;</text>
<text transform="translate(621.30,1570.60) scale(0.92,1)" x="0" y="0" font-size="32.0" font-family="Liberation Serif">0.05</text>
<text transform="translate(1378.50,1529.40) scale(0.92,1)" x="0" y="0" font-size="32.0" font-family="Liberation Serif" font-style="italic">r</text>
<text transform="translate(1399.20,1529.40) scale(0.92,1)" x="0" y="0" font-size="32.0" font-family="Liberation Serif">=</text>
<text transform="translate(1424.20,1529.40) scale(0.92,1)" x="0" y="0" font-size="32.0" font-family="Liberation Serif">0.45</text>
<text transform="translate(1378.70,1562.80) scale(0.92,1)" x="0" y="0" font-size="32.0" font-family="Liberation Serif" font-style="italic">p</text>
<text transform="translate(1402.40,1562.80) scale(0.92,1)" x="0" y="0" font-size="32.0" font-family="Liberation Serif">&lt;</text>
<text transform="translate(1427.10,1562.80) scale(0.92,1)" x="0" y="0" font-size="32.0" font-family="Liberation Serif">0.05</text>
</svg>
</body></html>
